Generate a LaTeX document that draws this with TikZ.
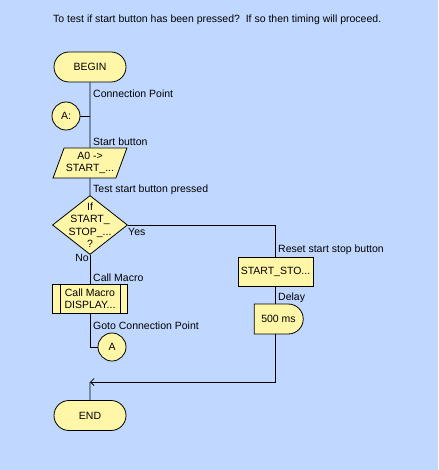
\documentclass[tikz,border=0pt]{standalone}
\usepackage{xcolor}
\usepackage{fontspec}
\setmainfont{Liberation Sans}
\usetikzlibrary{arrows.meta, positioning, shapes.geometric, shapes.misc}

\definecolor{bgblue}{RGB}{192,216,255}
\definecolor{boxyellow}{RGB}{255,246,168}

\begin{document}
\begin{tikzpicture}[x=1pt, y=-1pt,
    every node/.style={font=\fontsize{10.5}{12.5}\selectfont},
    shape_base/.style={draw, fill=boxyellow, line width=0.8pt, inner sep=1pt, align=center},
    terminal/.style={shape_base, rounded rectangle, minimum width=74pt, minimum height=30pt},
    conn_pt/.style={shape_base, circle, minimum size=28pt},
    io_box/.style={shape_base, trapezium, trapezium left angle=66, trapezium right angle=114,
        trapezium stretches=true, minimum width=74pt, minimum height=30pt},
    decision/.style={shape_base, diamond, minimum width=75pt, minimum height=59pt, inner sep=0pt},
    proc_box/.style={shape_base, rectangle, minimum width=75pt, minimum height=29pt},
    delay_box/.style={shape_base, rounded rectangle, rounded rectangle left arc=none,
        minimum width=51pt, minimum height=30pt},
    edge_label/.style={anchor=west, inner sep=0pt},
    line/.style={line width=0.8pt},
    >={Straight Barb[length=3.5pt, width=7pt]},
]
    \fill[bgblue] (0,0) rectangle (438,470);
    \useasboundingbox (0,0) rectangle (438,470);

    \node[anchor=west, inner sep=0pt] (title) at (53,20)
        {To test if start button has been pressed?\ \ If so then timing will proceed.};

    \node[terminal] (begin) at (90,67) {BEGIN};
    \node[conn_pt] (conA) at (66,116) {A:};
    \node[io_box] (readA0) at (90,163) {A0 ->\\START\_...};
    \node[decision, label={[align=center, font=\fontsize{10.5}{12.5}\selectfont]center:If\\START\_\\STOP\_...\\?}]
        (test) at (90,225) {};
    \node[proc_box] (macro) at (90,298.5) {Call Macro\\DISPLAY...};
    \node[conn_pt] (gotoA) at (112,347) {A};
    \node[proc_box] (reset) at (275.5,271.5) {START\_STO...};
    \node[delay_box] (delay) at (278.5,319) {500 ms};
    \node[terminal] (end) at (90,415.5) {END};

    \coordinate (jA) at (90,116);
    \coordinate (jGoto) at (90,347);
    \coordinate (merge) at (90,382);

    \draw[line] ([xshift=8pt]macro.north west) -- ([xshift=8pt]macro.south west);
    \draw[line] ([xshift=-8pt]macro.north east) -- ([xshift=-8pt]macro.south east);

    \draw[line] (begin) -- (readA0);
    \draw[line] (conA) -- (jA);
    \draw[line] (readA0) -- (test);
    \draw[line] (test) -- (macro);
    \draw[line] (macro) -- (jGoto) -- (gotoA);
    \draw[line] (test.east) -| (reset.north);
    \draw[line] (reset.south) -- (reset.south |- delay.north);
    \draw[line, ->] (reset.south |- delay.south) |- (merge);
    \draw[line] (merge) -- (end);

    \node[edge_label] (lblConn) at (93,94) {Connection Point};
    \node[edge_label] (lblStart) at (93,142) {Start button};
    \node[edge_label] (lblTest) at (93,190) {Test start button pressed};
    \node[edge_label] (lblYes) at (128,232) {Yes};
    \node[anchor=east, inner sep=0pt] (lblNo) at (89,258) {No};
    \node[edge_label] (lblMacro) at (93,278) {Call Macro};
    \node[edge_label] (lblGoto) at (93,326) {Goto Connection Point};
    \node[edge_label] (lblReset) at (278,250) {Reset start stop button};
    \node[edge_label] (lblDelay) at (278,298) {Delay};
\end{tikzpicture}
\end{document}
